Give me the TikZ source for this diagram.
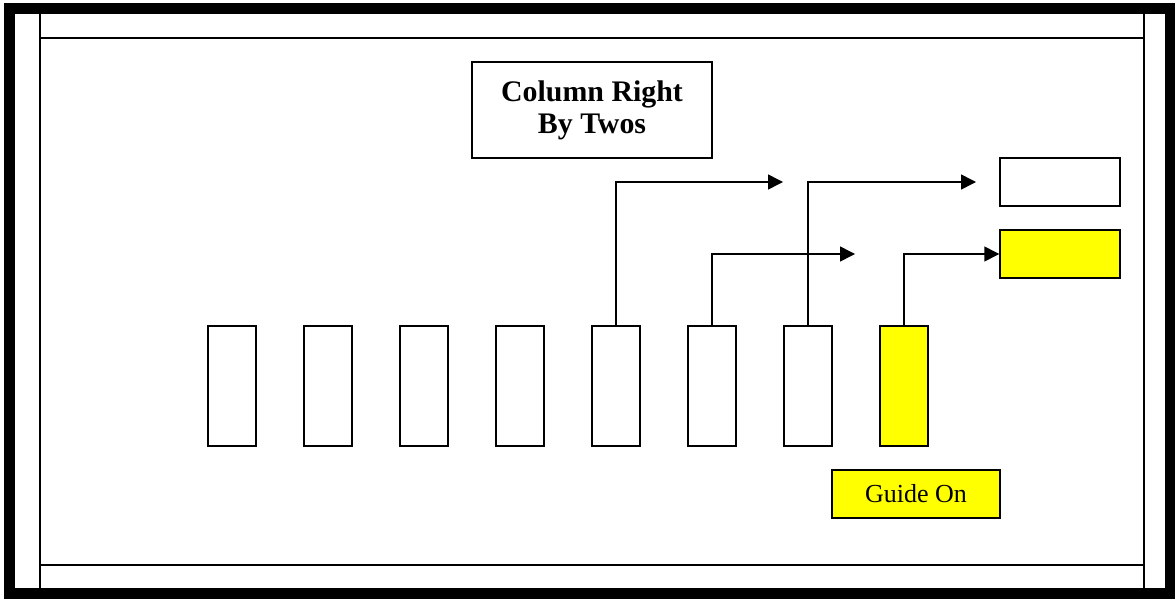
\documentclass[tikz,border=0pt]{standalone}
\usepackage{fontspec}
\setmainfont{Liberation Serif}
\usetikzlibrary{arrows.meta}
\definecolor{guide}{RGB}{255,255,0}

\tikzset{
  rank/.style={draw, line width=0.03cm, inner sep=0pt, minimum width=0.96cm, minimum height=2.4cm},
  post/.style={draw, line width=0.03cm, inner sep=0pt, minimum width=2.4cm, minimum height=0.96cm},
  arr/.style={line width=0.03cm, -{Triangle[length=0.3cm, width=0.3cm]}}
}

\begin{document}
\begin{tikzpicture}[x=0.02cm, y=-0.02cm]
  \useasboundingbox (0,0) rectangle (1175,598);
  % frame
  \draw[line width=0.22cm] (9.5,8.5) rectangle (1170.5,593);
  \draw[line width=0.04cm] (40,3) -- (40,593);
  \draw[line width=0.04cm] (1144,3) -- (1144,593);
  \draw[line width=0.04cm] (40,38) -- (1144,38);
  \draw[line width=0.04cm] (40,565) -- (1144,565);
  % title
  \node[draw, line width=0.03cm, minimum width=4.8cm, minimum height=1.92cm,
        align=center, font=\fontsize{17}{18.2}\selectfont\bfseries]
    (title) at (592,110) {Column Right\\By Twos};
  % the column, front rank
  \node[rank] (c1) at (232,386) {};
  \node[rank] (c2) at (328,386) {};
  \node[rank] (c3) at (424,386) {};
  \node[rank] (c4) at (520,386) {};
  \node[rank] (c5) at (616,386) {};
  \node[rank] (c6) at (712,386) {};
  \node[rank] (c7) at (808,386) {};
  \node[rank, fill=guide] (c8) at (904,386) {};
  % new posts
  \node[post] (p1) at (1060,182) {};
  \node[post, fill=guide] (p2) at (1060,254) {};
  \node[draw, line width=0.03cm, fill=guide, minimum width=3.36cm, minimum height=0.96cm,
        font=\fontsize{14.8}{18}\selectfont]
    (guideon) at (916,494) {Guide On};
  % turns
  \coordinate (t5) at (783,182);
  \coordinate (t6) at (855,254);
  \coordinate (t7) at (976,182);
  \draw[arr] (c5.north) |- (t5);
  \draw[arr] (c6.north) |- (t6);
  \draw[arr] (c7.north) |- (t7);
  \draw[arr] (c8.north) |- (p2.west);
\end{tikzpicture}
\end{document}
